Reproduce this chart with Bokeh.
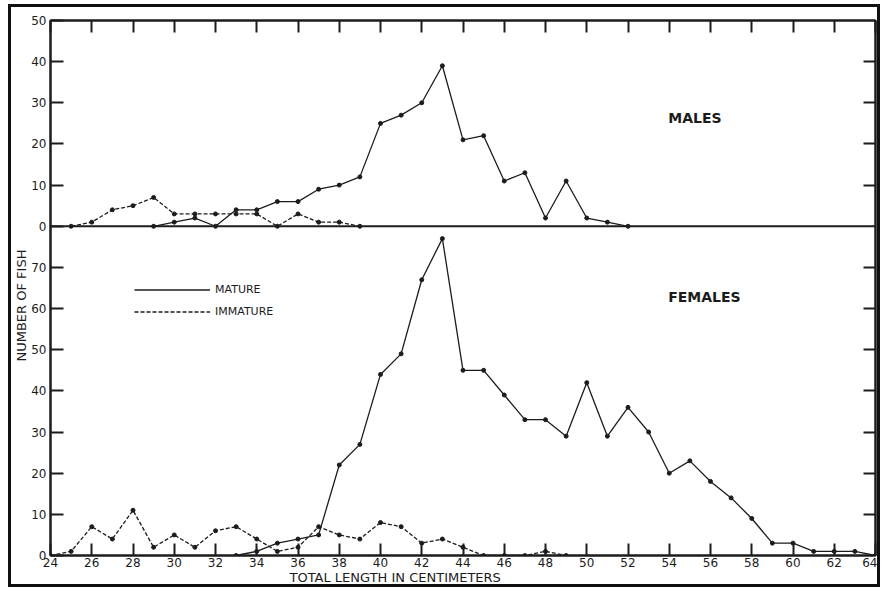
from bokeh.plotting import figure
from bokeh.models import (Range1d, LinearAxis, FixedTicker, Span, Label, Legend, LegendItem,
                          Title, CustomLabelingPolicy)
from bokeh.embed import file_html
from bokeh.resources import INLINE

# ---- data (total length in cm, number of fish) ----
male_mature_len = list(range(29, 53))
male_mature = [0, 1, 2, 0, 4, 4, 6, 6, 9, 10, 12, 25, 27, 30, 39, 21, 22, 11, 13, 2, 11, 2, 1, 0]
male_immature_len = list(range(25, 40))
male_immature = [0, 1, 4, 5, 7, 3, 3, 3, 3, 3, 0, 3, 1, 1, 0]
female_mature_len = list(range(33, 65))
female_mature = [0, 1, 3, 4, 5, 22, 27, 44, 49, 67, 77, 45, 45, 39, 33, 33, 29, 42, 29, 36,
                 30, 20, 23, 18, 14, 9, 3, 3, 1, 1, 1, 0]
female_immature_len = list(range(24, 50))
female_immature = [0, 1, 7, 4, 11, 2, 5, 2, 6, 7, 4, 1, 2, 7, 5, 4, 8, 7, 3, 4, 2, 0, 0, 0, 1, 0]

x_ticks = list(range(24, 65, 2))
female_y_ticks = [0, 10, 20, 30, 40, 50, 60, 70]
male_y_ticks = [0, 10, 20, 30, 40, 50]
FEMALE_TOP = 80   # females panel spans 0-80, males panel sits above it (0-50)

FONT = "DejaVu Sans"
INK = "#1c1c1c"

p = figure(width=872, height=583, output_backend="svg", toolbar_location=None,
           x_range=Range1d(24, 64), y_range=Range1d(0, FEMALE_TOP + 50),
           min_border_left=36, min_border_right=8, min_border_top=13, min_border_bottom=35,
           x_axis_location=None, y_axis_location=None, title=None)
p.extra_y_ranges = {"males": Range1d(-FEMALE_TOP, 50)}
p.grid.visible = False
p.outline_line_color = INK
p.outline_line_width = 2
p.background_fill_color = "white"
p.border_fill_color = "white"
p.styles = {"border": "3px solid #111", "box-sizing": "border-box",
            "margin-left": "8px", "margin-top": "4px"}

hide_all = CustomLabelingPolicy(code="""
const n = indices.size;
for (let i = 0; i < n; i++) { indices.unset(i); }
return indices;
""")

def style_axis(ax, labels=True):
    ax.axis_line_color = INK
    ax.axis_line_width = 2
    ax.major_tick_line_color = INK
    ax.major_tick_line_width = 2
    ax.major_tick_in = 12
    ax.major_tick_out = 0
    ax.minor_tick_line_color = None
    ax.major_label_text_font = FONT
    ax.major_label_text_font_size = "12px"
    ax.major_label_text_color = INK
    ax.major_label_standoff = 3
    if not labels:
        ax.major_label_policy = hide_all
        ax.major_label_text_font_size = "1px"
        ax.major_label_standoff = 0

# left axis: females 0-70 plus males 0-50 (shifted above the female panel)
left_ticks = female_y_ticks + [FEMALE_TOP + v for v in male_y_ticks]
left = LinearAxis(ticker=FixedTicker(ticks=left_ticks))
left.major_label_overrides = {FEMALE_TOP + v: str(v) for v in male_y_ticks}
style_axis(left)
left.major_tick_in = 13
left.major_label_standoff = 4
p.add_layout(left, "left")

right_ticks = [v for v in female_y_ticks if v > 0] + [FEMALE_TOP + v for v in male_y_ticks if 0 < v < 50]
right = LinearAxis(ticker=FixedTicker(ticks=right_ticks))
style_axis(right, labels=False)
p.add_layout(right, "right")

bottom = LinearAxis(ticker=FixedTicker(ticks=x_ticks))
style_axis(bottom)
bottom.major_label_standoff = 2
p.add_layout(bottom, "below")

top = LinearAxis(ticker=FixedTicker(ticks=x_ticks))
style_axis(top, labels=False)
p.add_layout(top, "above")

p.add_layout(Title(text="TOTAL LENGTH IN CENTIMETERS", align="left", offset=239,
                   vertical_align="top", text_font=FONT, text_font_size="13px",
                   text_font_style="normal", text_color=INK, standoff=0), "below")
p.add_layout(Title(text="NUMBER OF FISH", align="left", offset=194,
                   text_font=FONT, text_font_size="13px", text_font_style="normal",
                   text_color=INK, standoff=0), "left")

# separator between panels = males zero line
p.add_layout(Span(location=FEMALE_TOP, dimension="width", line_color=INK, line_width=2))

def series(xs, ys, dash, y_range_name="default"):
    r = p.line(xs, ys, line_color=INK, line_width=1.3, line_dash=dash, y_range_name=y_range_name)
    p.scatter(xs, ys, size=4, color=INK, y_range_name=y_range_name)
    return r

series(male_mature_len, male_mature, "solid", "males")
series(male_immature_len, male_immature, "4 2", "males")
fm = series(female_mature_len, female_mature, "solid")
fi = series(female_immature_len, female_immature, "4 2")

legend = Legend(items=[LegendItem(label="MATURE", renderers=[fm]),
                       LegendItem(label="IMMATURE", renderers=[fi])],
                location=(84, 237), glyph_width=76, glyph_height=13, label_standoff=5,
                spacing=9, padding=0, margin=0, border_line_color=None,
                background_fill_alpha=0, label_text_font=FONT, label_text_font_size="11px",
                label_text_color=INK)
p.add_layout(legend, "center")

p.add_layout(Label(x=53.95, y=106.4, text="MALES", text_font=FONT, text_font_size="14px",
                   text_font_style="bold", text_color=INK, text_baseline="middle"))
p.add_layout(Label(x=53.95, y=62.7, text="FEMALES", text_font=FONT, text_font_size="14px",
                   text_font_style="bold", text_color=INK, text_baseline="middle"))

open("out.html", "w").write(file_html(p, INLINE))
